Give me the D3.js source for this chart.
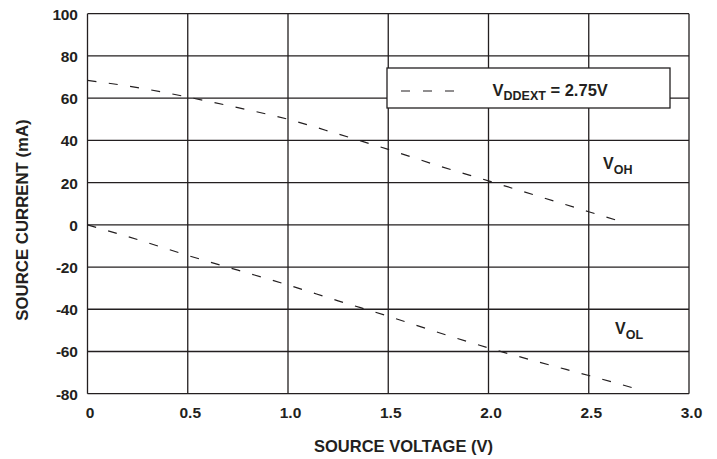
<!DOCTYPE html>
<html><head><meta charset="utf-8">
<script src="https://cdn.jsdelivr.net/npm/d3@7"></script>
<style>
body{margin:0;background:#fff;}
text{font-family:"Liberation Sans",Arial,Helvetica,sans-serif;font-weight:bold;fill:#231f20;}
</style></head><body>
<script>
const xTicks = [0, 0.5, 1.0, 1.5, 2.0, 2.5, 3.0];
const xTickLabels = ["0", "0.5", "1.0", "1.5", "2.0", "2.5", "3.0"];
const yTicks = [100, 80, 60, 40, 20, 0, -20, -40, -60, -80];
const vohV = [0, 0.25, 0.5, 0.75, 1.0, 1.25, 1.5, 1.75, 2.0, 2.25, 2.5, 2.68];
const vohI = [68.4, 65, 60.5, 55.5, 50, 43, 35.7, 28, 20.8, 13.5, 6.2, 1.0];
const volV = [0, 0.25, 0.5, 0.75, 1.0, 1.25, 1.5, 1.75, 2.0, 2.25, 2.5, 2.75];
const volI = [0, -7, -14.5, -21.5, -28.5, -36, -43.3, -51, -58.3, -65, -71.4, -78];

const W = 717, H = 459;
const svg = d3.select("body").append("svg").attr("width", W).attr("height", H);
const x = d3.scaleLinear().domain([0, 3]).range([87.5, 689]);
const y = d3.scaleLinear().domain([-80, 100]).range([393.7, 13.7]);
const ink = "#231f20";

// grid
svg.append("g").selectAll("line.v").data(xTicks).join("line")
  .attr("x1", d => x(d)).attr("x2", d => x(d)).attr("y1", y(100)).attr("y2", y(-80))
  .attr("stroke", ink).attr("stroke-width", 1.3);
svg.append("g").selectAll("line.h").data(yTicks).join("line")
  .attr("x1", x(0)).attr("x2", x(3)).attr("y1", d => y(d)).attr("y2", d => y(d))
  .attr("stroke", ink).attr("stroke-width", 1.3);

// axes labels
const xAxis = d3.axisBottom(x).tickValues(xTicks).tickSize(0).tickPadding(0)
  .tickFormat((d, i) => xTickLabels[i]);
const gx = svg.append("g").attr("transform", `translate(0,${y(-80)})`).call(xAxis);
gx.select(".domain").remove();
gx.selectAll("text").attr("dy", null).attr("y", 24.8).attr("x", 2).style("font-size", "15.5px")
  .style("font-family", null).attr("fill", ink);

const yAxis = d3.axisLeft(y).tickValues(yTicks).tickSize(0).tickPadding(0).tickFormat(d3.format("d"));
const gy = svg.append("g").attr("transform", `translate(${x(0)},0)`).call(yAxis);
gy.select(".domain").remove();
gy.selectAll("text").attr("x", -10).attr("dy", "0.35em").style("font-size", "15.5px")
  .style("font-family", null).attr("fill", ink).style("letter-spacing", "-0.3px")
  .text(d => d < 0 ? "-" + Math.abs(d) : d);

svg.append("text").attr("x", 403.5).attr("y", 451.5).attr("text-anchor", "middle")
  .style("font-size", "16.5px").text("SOURCE VOLTAGE (V)");
svg.append("text").attr("transform", "translate(27.5,220) rotate(-90)").attr("text-anchor", "middle")
  .style("font-size", "16.8px").text("SOURCE CURRENT (mA)");

// curves
const line = d3.line().x(d => x(d[0])).y(d => y(d[1])).curve(d3.curveMonotoneX);
const voh = vohV.map((v, i) => [v, vohI[i]]);
const vol = volV.map((v, i) => [v, volI[i]]);
[voh, vol].forEach(data => {
  svg.append("path").datum(data).attr("d", line).attr("fill", "none")
    .attr("stroke", ink).attr("stroke-width", 1.2).attr("stroke-dasharray", "9,12.5");
});

// curve labels
function subLabel(px, py, main, sub) {
  const t = svg.append("text").attr("x", px).attr("y", py).style("font-size", "16px");
  t.append("tspan").text(main);
  t.append("tspan").attr("dy", 5).style("font-size", "12.5px").text(sub);
}
subLabel(603, 169, "V", "OH");
subLabel(615, 334, "V", "OL");

// legend
svg.append("rect").attr("x", 387).attr("y", 68).attr("width", 283).attr("height", 40)
  .attr("fill", "#fff").attr("stroke", ink).attr("stroke-width", 1.3);
svg.append("line").attr("x1", 401).attr("x2", 455).attr("y1", 91).attr("y2", 91)
  .attr("stroke", ink).attr("stroke-width", 1.2).attr("stroke-dasharray", "9,13");
const lt = svg.append("text").attr("x", 492.5).attr("y", 96).style("font-size", "16.5px");
lt.append("tspan").text("V");
lt.append("tspan").attr("dy", 3.5).style("font-size", "12.5px").text("DDEXT");
lt.append("tspan").attr("dy", -3.5).text(" = 2.75V");
</script>
</body></html>
